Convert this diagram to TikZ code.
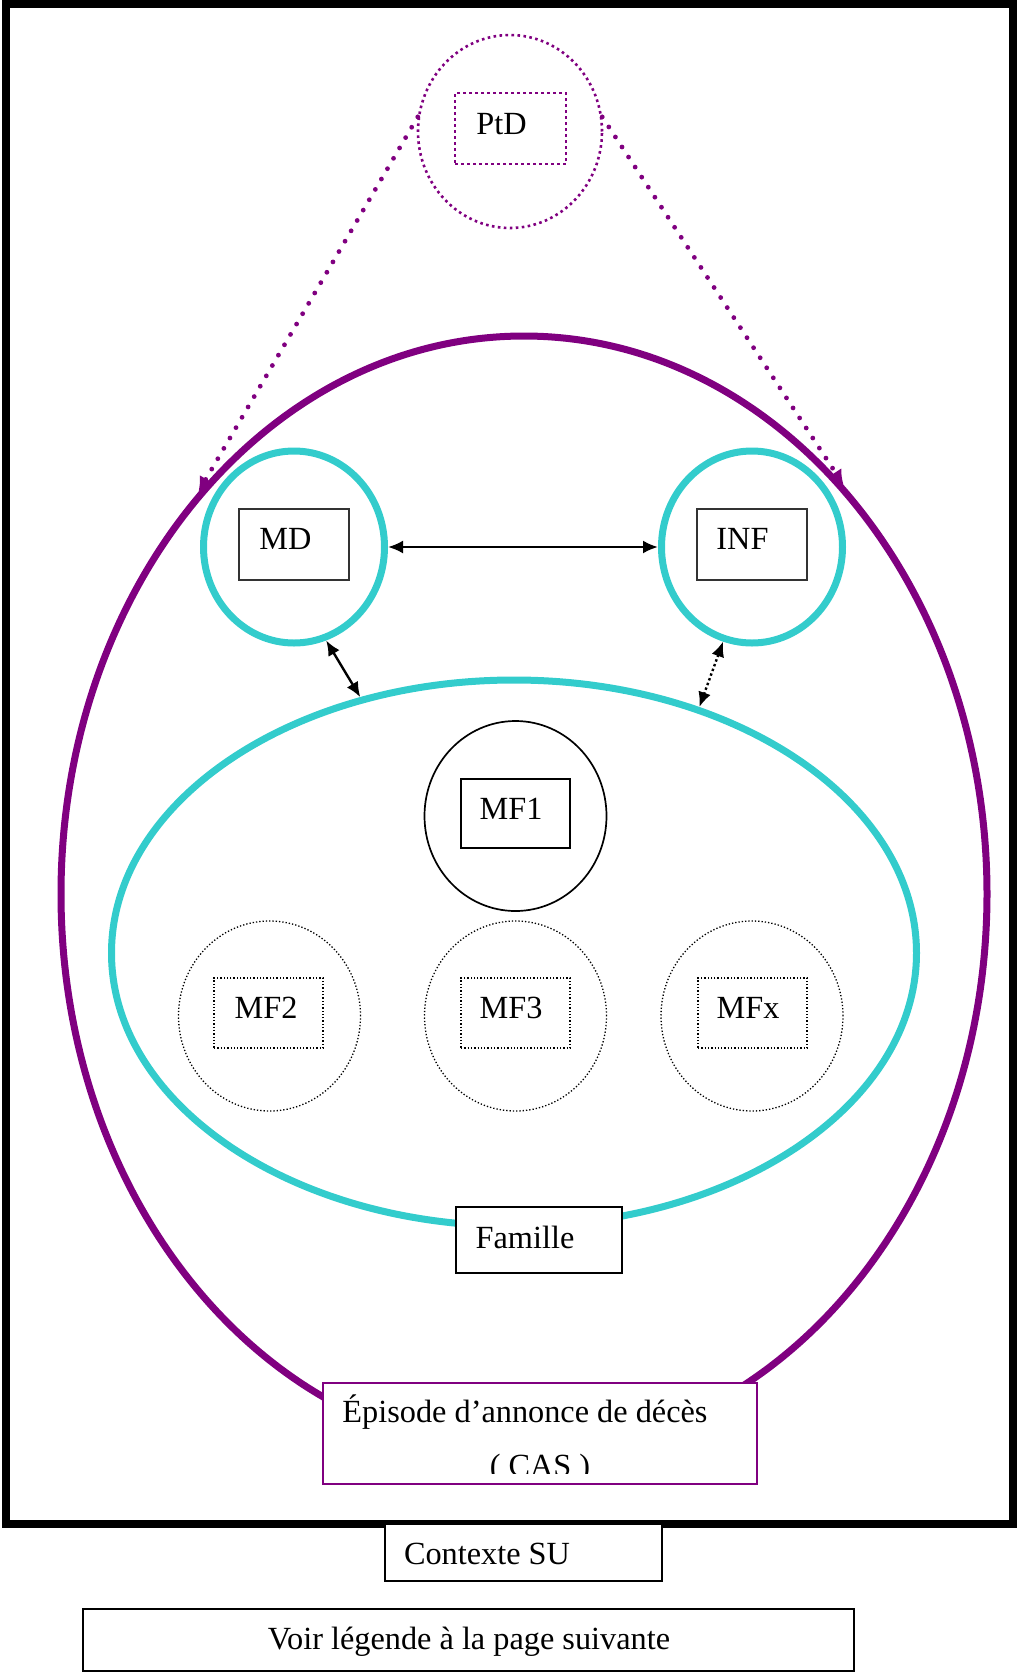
\documentclass[tikz,border=0pt]{standalone}
\usepackage{fontspec}
\setmainfont{Liberation Serif}
\usetikzlibrary{shapes.geometric,arrows.meta}
\definecolor{purp}{RGB}{128,0,128}
\definecolor{cyn}{RGB}{51,204,204}
\begin{document}
\begin{tikzpicture}[x=1pt,y=-1pt,
  txt/.style={font=\fontsize{32.3}{38}\selectfont, inner sep=0pt, anchor=base},
  ring/.style={ellipse, draw=cyn, line width=7pt, inner sep=0pt},
  thinbox/.style={draw=black!80, line width=1.3pt, inner sep=0pt},
  dotbox/.style={draw, line width=1.3pt, dash pattern=on 1.3pt off 2pt, inner sep=0pt},
  dotring/.style={ellipse, draw, line width=1.3pt, dash pattern=on 1.3pt off 2pt, inner sep=0pt, minimum width=182pt, minimum height=190pt},
  pdot/.style={draw=purp, line width=2.6pt, dash pattern=on 2.6pt off 3.4pt},
  purpdots/.style={purp, line width=4.8pt, line cap=round, dash pattern=on 0pt off 12pt, -{Latex[length=15pt,width=15pt]}},
  dbl/.style={line width=2.4pt, {Latex[length=15pt,width=13pt]}-{Latex[length=15pt,width=13pt]}}
]
\useasboundingbox (0,0) rectangle (1017,1674);

% context ellipse
\node[ellipse, draw=purp, line width=7pt, inner sep=0pt, minimum width=926pt, minimum height=1116pt] (ctx) at (524,894) {};
% family ellipse
\node[ring, minimum width=805pt, minimum height=546pt] (fam) at (514,953) {};
% MD and INF rings
\node[ring, minimum width=181pt, minimum height=192pt] (md) at (294,547) {};
\node[ring, minimum width=181pt, minimum height=192pt] (inf) at (752,547) {};
\node[thinbox, minimum width=110pt, minimum height=71pt] (mdbox) at (294,544.5) {};
\node[thinbox, minimum width=110pt, minimum height=71pt] (infbox) at (752,544.5) {};
\node[txt] (mdt) at (285.5,549) {MD};
\node[txt] (inft) at (742.5,549) {INF};

% PtD
\node[ellipse, pdot, inner sep=0pt, minimum width=184pt, minimum height=193pt] (ptd) at (510,131.5) {};
\node[pdot, inner sep=0pt, minimum width=111pt, minimum height=71pt] (ptdbox) at (510.5,128.5) {};
\node[txt] (ptdt) at (501.5,134) {PtD};

% family members
\node[ellipse, draw, line width=1.7pt, inner sep=0pt, minimum width=182pt, minimum height=190pt] (mf1) at (515.5,816) {};
\node[draw, line width=2pt, inner sep=0pt, minimum width=109pt, minimum height=69pt] (mf1box) at (515.5,813.5) {};
\node[txt] (mf1t) at (511,819) {MF1};

\node[dotring] (mf2) at (269.5,1016) {};
\node[dotbox, minimum width=109pt, minimum height=70pt] (mf2box) at (268.5,1013) {};
\node[txt] (mf2t) at (266,1018) {MF2};

\node[dotring] (mf3) at (515.5,1016) {};
\node[dotbox, minimum width=109pt, minimum height=70pt] (mf3box) at (515.5,1013) {};
\node[txt] (mf3t) at (511,1018) {MF3};

\node[dotring] (mfx) at (752,1016) {};
\node[dotbox, minimum width=109pt, minimum height=70pt] (mfxbox) at (752.5,1013) {};
\node[txt] (mfxt) at (748,1018) {MFx};

% connectors
\draw[dbl] (md) -- (inf);
\draw[dbl] (md.-71) -- (fam.121);
\draw[dbl, dash pattern=on 2.4pt off 2.6pt] (inf.-107) -- (fam.53);
\draw[purpdots] (ptd.171) -- (ctx.129);
\draw[purpdots] (ptd.9) -- (ctx.52);

% Famille label box
\node[draw, fill=white, line width=2.2pt, inner sep=0pt, minimum width=166pt, minimum height=66pt] (fambox) at (539,1240) {};
\node[txt] (famt) at (525,1248) {Famille};

% Episode box
\node[draw=purp, fill=white, line width=2pt, inner sep=0pt, minimum width=434pt, minimum height=101pt] (epbox) at (540,1433.5) {};
\node[txt] (ept) at (525,1422) {Épisode d’annonce de décès};
\begin{scope}
\clip (323,1383) rectangle (757,1473);
\node[txt] (cast) at (540,1476) {( CAS )};
\end{scope}

% outer frame
\draw[line width=8pt] (6,4) rectangle (1013,1524);

% Contexte SU
\node[draw, fill=white, line width=2pt, inner sep=0pt, minimum width=277pt, minimum height=57pt] (ctxbox) at (523.5,1552.5) {};
\node[txt] (ctxt) at (487,1564) {Contexte SU};

% legend
\node[draw, line width=2pt, inner sep=0pt, minimum width=771pt, minimum height=62pt] (legbox) at (468.5,1640) {};
\node[txt] (legt) at (469,1649) {Voir légende à la page suivante};
\end{tikzpicture}
\end{document}
